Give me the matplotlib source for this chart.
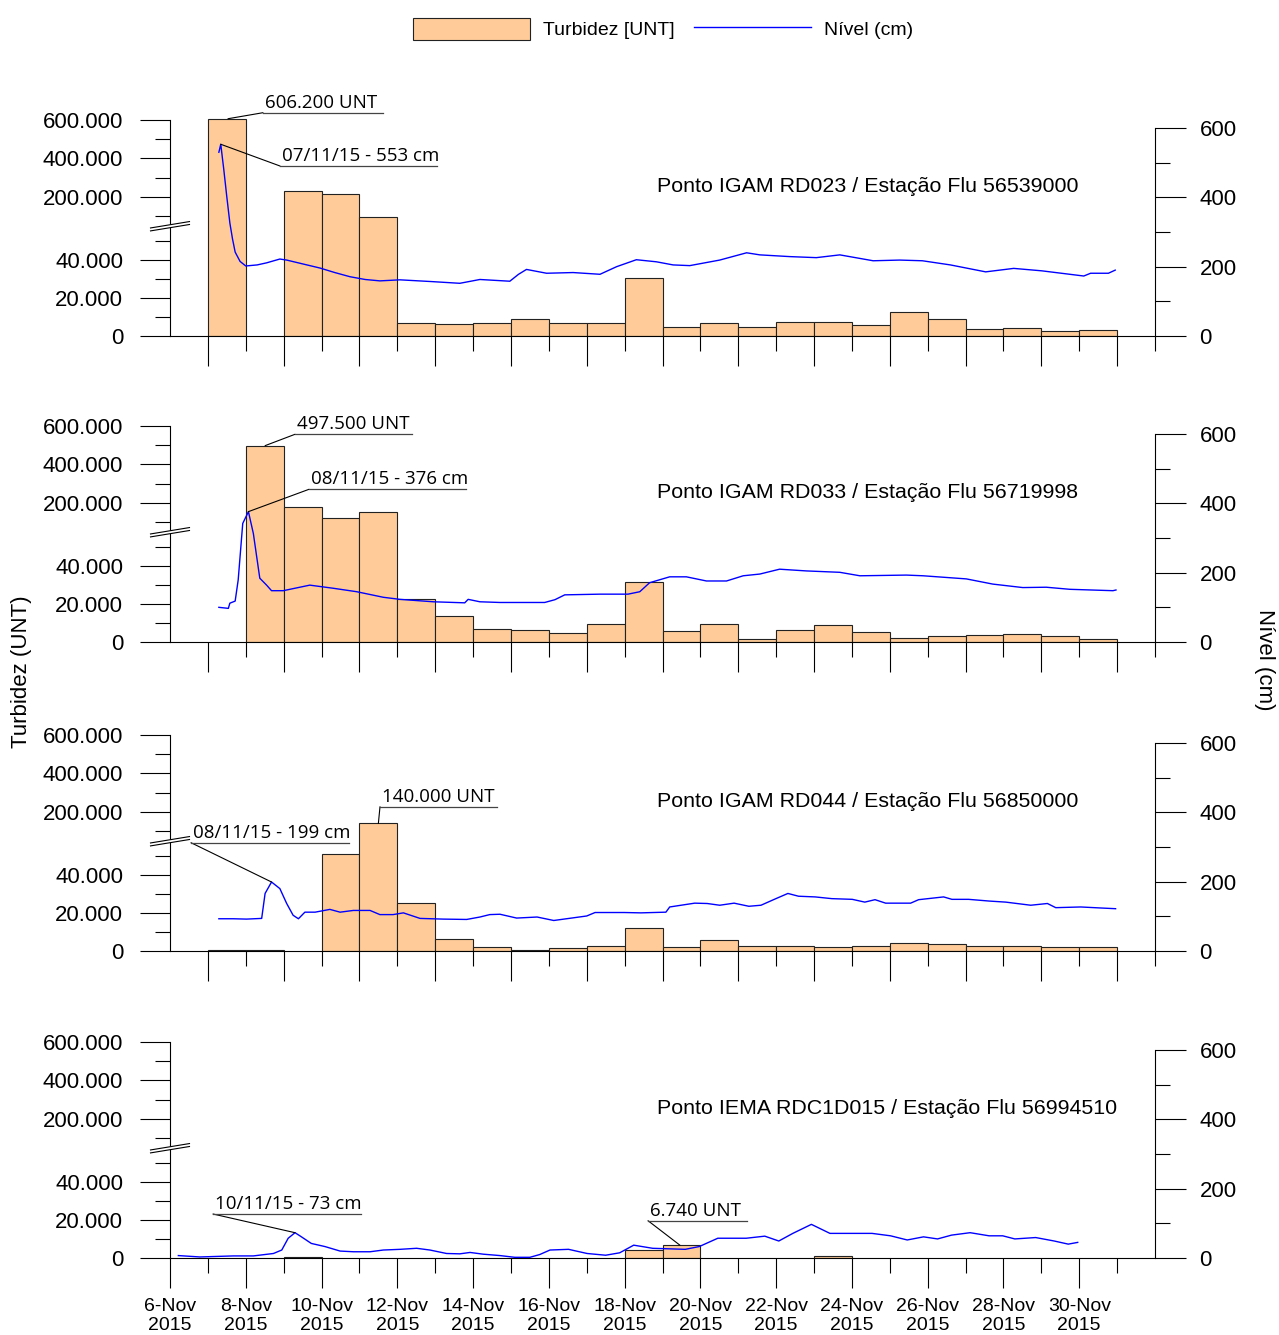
import numpy as np
import pandas as pd
import matplotlib
matplotlib.use('Agg')
from matplotlib import pyplot as plt
from matplotlib.patches import Patch, Polygon
from matplotlib.lines import Line2D
import matplotlib.dates as mdates
from matplotlib.ticker import FixedLocator, FixedFormatter, FuncFormatter

plt.rcParams['font.family'] = ['Liberation Sans', 'DejaVu Sans']
NARROW = ['Liberation Sans', 'DejaVu Sans']
ANNOT = ['Open Sans', 'DejaVu Sans']

nan = np.nan

# ---- data ----------------------------------------------------------------
stations = ['Ponto IGAM RD023 / Estação Flu 56539000',
            'Ponto IGAM RD033 / Estação Flu 56719998',
            'Ponto IGAM RD044 / Estação Flu 56850000',
            'Ponto IEMA RDC1D015 / Estação Flu 56994510']

# daily turbidity (UNT), one bar per day from 7-Nov to 30-Nov 2015
bar_days = pd.date_range('2015-11-07', '2015-11-30', freq='D')
turb_rd023 = [606.2, nan, 229.6, 217.0, 96.0, 6.7, 6.1, 6.8, 8.9, 6.8, 6.7, 30.7,
              4.6, 7.0, 4.9, 7.4, 7.2, 6.0, 12.8, 8.8, 3.7, 4.2, 2.8, 3.0]
turb_rd033 = [nan, 497.5, 177.7, 120.5, 153.0, 22.6, 13.9, 6.7, 6.3, 4.7, 9.3, 31.6,
              5.6, 9.3, 1.4, 6.1, 9.1, 5.3, 1.9, 3.0, 3.7, 4.0, 3.0, 1.6]
turb_rd044 = [0.3, 0.3, nan, 50.9, 140.0, 25.4, 6.1, 2.3, 0.5, 1.4, 2.6, 11.9,
              2.3, 5.8, 2.6, 2.6, 2.3, 2.8, 4.0, 3.5, 2.8, 2.8, 2.3, 1.9]
turb_rdc1d015 = [nan, nan, 0.3, nan, nan, nan, nan, nan, nan, nan, nan, 4.0,
                 6.74, nan, nan, nan, 1.2, nan, nan, nan, nan, nan, nan, nan]

# water level (cm): day of November (decimal) and level
lvl_day_rd023 = [7.29, 7.34, 7.42, 7.50, 7.58, 7.65, 7.72, 7.85, 8.00, 8.30, 8.55, 8.90, 9.08,
                 9.50, 9.96, 10.35, 10.75, 11.15, 11.54, 12.07, 12.90, 13.65, 14.18, 14.97,
                 15.20, 15.41, 15.94, 16.64, 17.35, 17.79, 18.31, 18.84, 19.28, 19.72, 20.51,
                 21.22, 21.57, 22.36, 23.06, 23.68, 24.56, 25.26, 25.86, 26.60, 27.53, 28.27,
                 29.01, 30.12, 30.30, 30.77, 30.95]
lvl_cm_rd023 = [530, 553, 480, 401, 326, 280, 242, 215, 202, 205, 211, 222, 219,
                208, 196, 183, 171, 163, 159, 162, 157, 152, 163, 158,
                178, 192, 181, 183, 178, 200, 220, 214, 205, 203, 219,
                240, 234, 229, 226, 234, 217, 219, 217, 205, 185, 195,
                188, 173, 181, 181, 190]

lvl_day_rd033 = [7.29, 7.54, 7.58, 7.72, 7.80, 7.92, 8.07, 8.20, 8.37, 8.55, 8.68, 8.99,
                 9.69, 10.31, 10.93, 11.63, 12.07, 12.95, 13.78, 13.87, 14.18, 14.71, 15.23,
                 15.89, 16.16, 16.42, 17.35, 18.09, 18.40, 18.66, 19.19, 19.63, 20.16, 20.69,
                 21.13, 21.57, 22.09, 22.80, 23.68, 24.21, 25.44, 25.88, 27.02, 27.72, 28.51,
                 29.13, 29.75, 30.89, 30.97]
lvl_cm_rd033 = [100, 97, 112, 118, 179, 342, 376, 313, 184, 164, 148, 148,
                164, 155, 145, 129, 123, 116, 113, 123, 116, 114, 114,
                114, 122, 136, 138, 138, 145, 171, 188, 188, 176, 176,
                191, 196, 210, 205, 201, 191, 193, 191, 182, 167, 157,
                158, 152, 148, 150]

lvl_day_rd044 = [7.29, 7.67, 8.02, 8.42, 8.51, 8.68, 8.90, 9.08, 9.25, 9.39, 9.56, 9.83,
                 10.22, 10.49, 10.84, 11.28, 11.54, 11.89, 12.16, 12.60, 13.21, 13.83, 14.18,
                 14.44, 14.71, 15.15, 15.69, 16.13, 17.00, 17.22, 17.99, 18.43, 19.09, 19.19,
                 19.85, 20.18, 20.51, 20.89, 21.28, 21.60, 21.93, 22.31, 22.59, 23.03, 23.47,
                 24.01, 24.34, 24.61, 24.89, 25.55, 25.76, 26.42, 26.64, 27.08, 27.63, 28.06,
                 28.72, 29.16, 29.38, 30.04, 30.58, 30.96]
lvl_cm_rd044 = [93, 93, 92, 94, 166, 199, 180, 137, 103, 93, 112, 112,
                120, 112, 117, 117, 105, 105, 110, 94, 92, 91, 98,
                105, 106, 95, 98, 88, 101, 111, 111, 110, 112, 127,
                138, 137, 132, 138, 129, 132, 148, 166, 158, 156, 151,
                149, 141, 148, 138, 138, 148, 156, 149, 149, 144, 141,
                132, 137, 125, 127, 124, 122]

lvl_day_rdc1d015 = [6.22, 6.79, 7.67, 8.20, 8.73, 8.95, 9.12, 9.30, 9.47, 9.73, 10.09, 10.49,
                    10.84, 11.28, 11.63, 12.07, 12.51, 12.86, 13.30, 13.65, 13.92, 14.27, 14.71,
                    15.10, 15.50, 15.76, 16.03, 16.52, 17.01, 17.50, 17.87, 18.24, 18.74, 19.60,
                    19.97, 20.46, 21.21, 21.70, 22.07, 22.44, 22.93, 23.42, 24.03, 24.53, 25.02,
                    25.46, 25.89, 26.26, 26.63, 27.12, 27.62, 27.98, 28.30, 28.85, 29.34, 29.71,
                    29.96]
lvl_cm_rdc1d015 = [7, 3, 6, 6, 13, 23, 57, 73, 61, 42, 33, 20,
                   18, 18, 23, 25, 28, 23, 13, 12, 16, 11, 7,
                   2, 2, 10, 23, 25, 13, 8, 15, 37, 28, 25,
                   33, 57, 57, 63, 49, 71, 97, 71, 71, 71, 64,
                   52, 61, 55, 66, 73, 64, 64, 55, 59, 49, 40,
                   45]

turbidity = [turb_rd023, turb_rd033, turb_rd044, turb_rdc1d015]
level_days = [lvl_day_rd023, lvl_day_rd033, lvl_day_rd044, lvl_day_rdc1d015]
level_cm = [lvl_cm_rd023, lvl_cm_rd033, lvl_cm_rd044, lvl_cm_rdc1d015]

left_ticks = [0, 20, 40, 200, 400, 600]
left_labels = ['0', '20.000', '40.000', '200.000', '400.000', '600.000']
left_minor = [10, 30, 50, 100, 300, 500]
right_ticks = [0, 200, 400, 600]
right_minor = [100, 300, 500]

# annotations: panel, text, day of Nov, value, which axis
annots = [(0, '606.200 UNT', 7.53, 606.2, 'bar'),
          (0, '07/11/15 - 553 cm', 7.34, 553, 'lvl'),
          (1, '497.500 UNT', 8.51, 497.5, 'bar'),
          (1, '08/11/15 - 376 cm', 8.07, 376, 'lvl'),
          (2, '140.000 UNT', 11.5, 140.0, 'bar'),
          (2, '08/11/15 - 199 cm', 8.68, 199, 'lvl'),
          (3, '10/11/15 - 73 cm', 9.30, 73, 'lvl'),
          (3, '6.740 UNT', 19.46, 6.74, 'bar')]
# label underline position in pixels: x0, x1, y
annot_pos = [(263, 383, 112.7), (280, 437, 166), (295, 412, 434.3), (309, 466, 489.3),
             (380, 497, 806.7), (191, 349, 842.7), (213, 361, 1214), (648, 747, 1220.7)]

# ---- broken turbidity scale: 0-59 linear, compressed above -----------------
KNEE = 58.9
RATIO = 0.1925 / 1.9


def fwd(v):
    v = np.asarray(v, dtype=float)
    return np.where(v <= KNEE, v, KNEE + (v - KNEE) * RATIO)


def inv(u):
    u = np.asarray(u, dtype=float)
    return np.where(u <= KNEE, u, KNEE + (u - KNEE) / RATIO)


def nov(days):
    return pd.Timestamp('2015-11-01') + pd.to_timedelta(np.asarray(days, dtype=float) - 1, unit='D')


W, H = 1279, 1335
fig = plt.figure(figsize=(W / 100, H / 100), dpi=100)

YTOP = 610.0
ax_h_px = fwd(YTOP) * 1.9
zero_px = [336, 642, 951, 1258]
BAR_C = '#FFCC99'
LINE_C = '#0000FF'

axes = []
twins = []
for i in range(4):
    ax = fig.add_axes([170 / W, 1 - zero_px[i] / H, 985 / W, ax_h_px / H])
    ax.set_yscale('function', functions=(fwd, inv))
    ax.bar(bar_days, turbidity[i], width=1.0, align='edge', color=BAR_C,
           edgecolor='#222222', linewidth=0.8, zorder=2)
    ax.set_ylim(0, YTOP)
    ax.set_xlim(pd.Timestamp('2015-11-06'), pd.Timestamp('2015-12-02'))
    for s in ['top', 'right']:
        ax.spines[s].set_visible(False)
    ax.spines['left'].set_bounds(0, 600)
    ax.yaxis.set_major_locator(FixedLocator(left_ticks))
    ax.yaxis.set_major_formatter(FixedFormatter(left_labels))
    ax.yaxis.set_minor_locator(FixedLocator(left_minor))
    ax.tick_params(axis='y', which='major', length=21.6, width=0.8, pad=12, labelsize=16)
    ax.tick_params(axis='y', which='minor', length=10.8, width=0.8)

    if i < 3:
        maj = pd.date_range('2015-11-07', '2015-12-01', freq='2D')
        mnr = pd.date_range('2015-11-08', '2015-12-02', freq='2D')
    else:
        maj = pd.date_range('2015-11-06', '2015-11-30', freq='2D')
        mnr = pd.date_range('2015-11-07', '2015-12-01', freq='2D')
    ax.xaxis.set_major_locator(FixedLocator(mdates.date2num(maj.to_pydatetime())))
    ax.xaxis.set_minor_locator(FixedLocator(mdates.date2num(mnr.to_pydatetime())))
    ax.tick_params(axis='x', which='major', length=21.6, width=0.8, pad=7, labelsize=14)
    ax.tick_params(axis='x', which='minor', length=10.8, width=0.8)
    if i < 3:
        ax.tick_params(axis='x', which='major', labelbottom=False)
    else:
        ax.xaxis.set_major_formatter(FuncFormatter(
            lambda v, p: mdates.num2date(v).strftime('%d-%b').lstrip('0') + '\n' + mdates.num2date(v).strftime('%Y')))

    # break marks on the left axis
    yb = fwd(57.0) / fwd(YTOP)
    dx, dy, gap = 0.0198, 0.0147, 0.0135
    ax.add_patch(Polygon([[-dx, yb - dy], [dx, yb + dy], [dx, yb + dy + gap], [-dx, yb - dy + gap]],
                         closed=True, transform=ax.transAxes, facecolor='white',
                         edgecolor='none', clip_on=False, zorder=5))
    for off in (0, gap):
        ax.add_line(Line2D([-dx, dx], [yb - dy + off, yb + dy + off], transform=ax.transAxes,
                           color='black', lw=0.8, clip_on=False, zorder=6))

    tw = ax.twinx()
    tw.plot(nov(level_days[i]), level_cm[i], color=LINE_C, lw=1.0)
    tw.set_ylim(0, ax_h_px / 0.3467)
    for s in ['top', 'left', 'bottom']:
        tw.spines[s].set_visible(False)
    tw.spines['right'].set_bounds(0, 600)
    tw.yaxis.set_major_locator(FixedLocator(right_ticks))
    tw.yaxis.set_minor_locator(FixedLocator(right_minor))
    tw.tick_params(axis='y', which='major', length=22, width=0.8, pad=10, labelsize=16)
    tw.tick_params(axis='y', which='minor', length=11, width=0.8)

    ax.text(0.4944, 0.685, stations[i], transform=ax.transAxes, ha='left', va='center',
            fontsize=15.4, family=NARROW)
    axes.append(ax)
    twins.append(tw)

# annotations with underlined labels
for (p, txt, d, val, kind), (x0, x1, y) in zip(annots, annot_pos):
    tgt_ax = axes[p] if kind == 'bar' else twins[p]
    xn = mdates.date2num(nov([d])[0].to_pydatetime())
    fx0, fx1, fy = x0 / W, x1 / W, 1 - y / H
    tgt_ax.annotate('', xy=(xn, val), xycoords='data', xytext=(fx0, fy),
                    textcoords='figure fraction',
                    arrowprops=dict(arrowstyle='-', color='black', lw=0.8,
                                    shrinkA=0, shrinkB=0), annotation_clip=False)
    fig.add_artist(Line2D([fx0, fx1], [fy, fy], transform=fig.transFigure,
                          color='#444444', lw=0.9))
    fig.text(fx0 + 2 / W, fy + 5 / H, txt, ha='left', va='baseline', fontsize=13.5,
             family=ANNOT)

fig.text(22 / W, 1 - 672 / H, 'Turbidez (UNT)', rotation=90, ha='center', va='center',
         fontsize=16)
fig.text(1265 / W, 1 - 660 / H, 'Nível (cm)', rotation=270, ha='center', va='center',
         fontsize=16)

handles = [Patch(facecolor=BAR_C, edgecolor='#222222', linewidth=0.8),
           Line2D([], [], color=LINE_C, lw=1.0)]
fig.legend(handles, ['Turbidez [UNT]', 'Nível (cm)'], loc='center',
           bbox_to_anchor=(663 / W, 1 - 29 / H), ncol=2, frameon=False,
           handlelength=6.0, handleheight=1.34, handletextpad=0.67, columnspacing=1.03,
           prop={'family': NARROW, 'size': 14})

fig.savefig('out.png', dpi=100)
